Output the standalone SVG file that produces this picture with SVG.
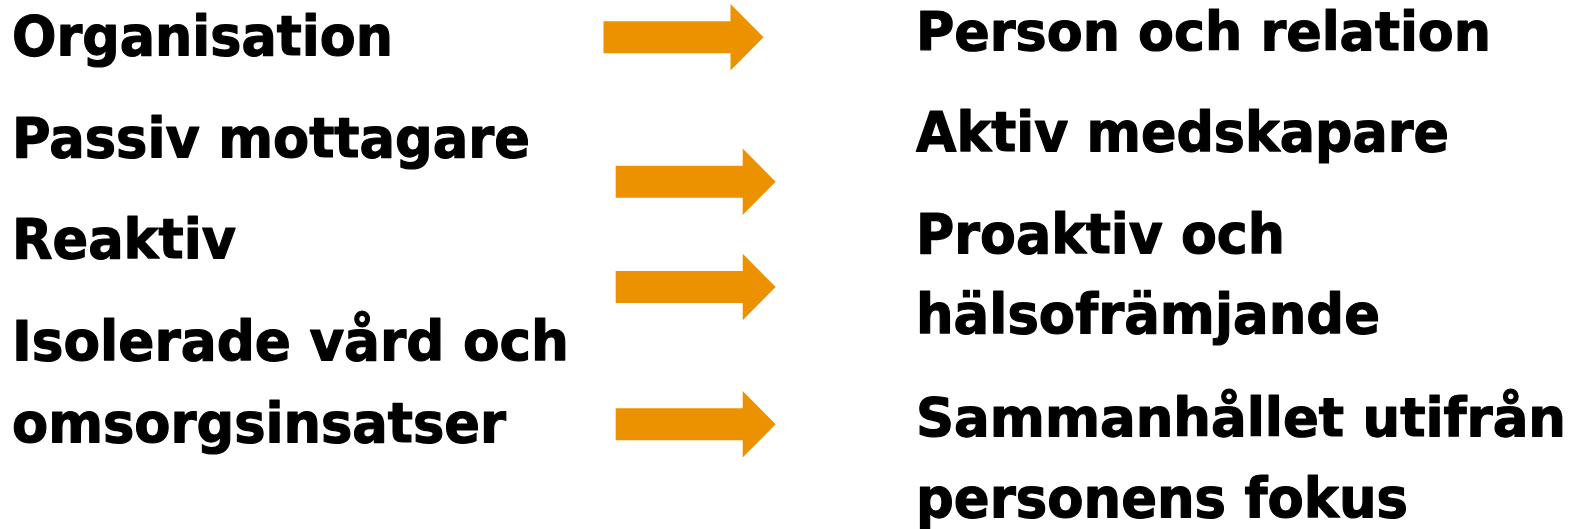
<svg xmlns="http://www.w3.org/2000/svg" xmlns:xlink="http://www.w3.org/1999/xlink" width="1575" height="529" viewBox="0 0 1575 529">
<style>
.t{font-family:"DejaVu Sans","Liberation Sans",sans-serif;font-weight:bold;font-size:56px;fill:#000;stroke:#000;stroke-width:1.2px;stroke-linejoin:round}
.arr{fill:#EC9200}
</style>
<defs>
<path id="arrow" d="M0,-16 H127 V-33.3 L160,0 L127,33.3 V16 H0 Z"/>
</defs>
<rect width="1575" height="529" fill="#fff"/>
<g id="left">
<g id="n-organisation"><text class="t" x="12" y="55" textLength="381" lengthAdjust="spacingAndGlyphs">Organisation</text></g>
<g id="n-passiv"><text class="t" x="12" y="157" textLength="518" lengthAdjust="spacingAndGlyphs">Passiv mottagare</text></g>
<g id="n-reaktiv"><text class="t" x="12" y="258" textLength="224" lengthAdjust="spacingAndGlyphs">Reaktiv</text></g>
<g id="n-isolerade"><text class="t" x="12" y="360" textLength="557" lengthAdjust="spacingAndGlyphs">Isolerade vård och</text><text class="t" x="12" y="442" textLength="494" lengthAdjust="spacingAndGlyphs">omsorgsinsatser</text></g>
</g>
<g id="right">
<g id="n-person"><text class="t" x="916" y="50" style="font-size:54px" textLength="575" lengthAdjust="spacingAndGlyphs">Person och relation</text></g>
<g id="n-aktiv"><text class="t" x="916" y="151" textLength="533" lengthAdjust="spacingAndGlyphs">Aktiv medskapare</text></g>
<g id="n-proaktiv"><text class="t" x="916" y="253" textLength="369" lengthAdjust="spacingAndGlyphs">Proaktiv och</text><text class="t" x="916" y="333" textLength="464" lengthAdjust="spacingAndGlyphs">hälsofrämjande</text></g>
<g id="n-sammanhallet"><text class="t" x="916" y="436" style="font-size:53px" textLength="650" lengthAdjust="spacingAndGlyphs">Sammanhållet utifrån</text><text class="t" x="916" y="517" textLength="492" lengthAdjust="spacingAndGlyphs">personens fokus</text></g>
</g>
<g id="connectors" class="arr">
<use xlink:href="#arrow" href="#arrow" transform="translate(603.5,37.3)"/>
<use xlink:href="#arrow" href="#arrow" transform="translate(615.7,181.7)"/>
<use xlink:href="#arrow" href="#arrow" transform="translate(615.7,287)"/>
<use xlink:href="#arrow" href="#arrow" transform="translate(615.7,424.3)"/>
</g>
</svg>
